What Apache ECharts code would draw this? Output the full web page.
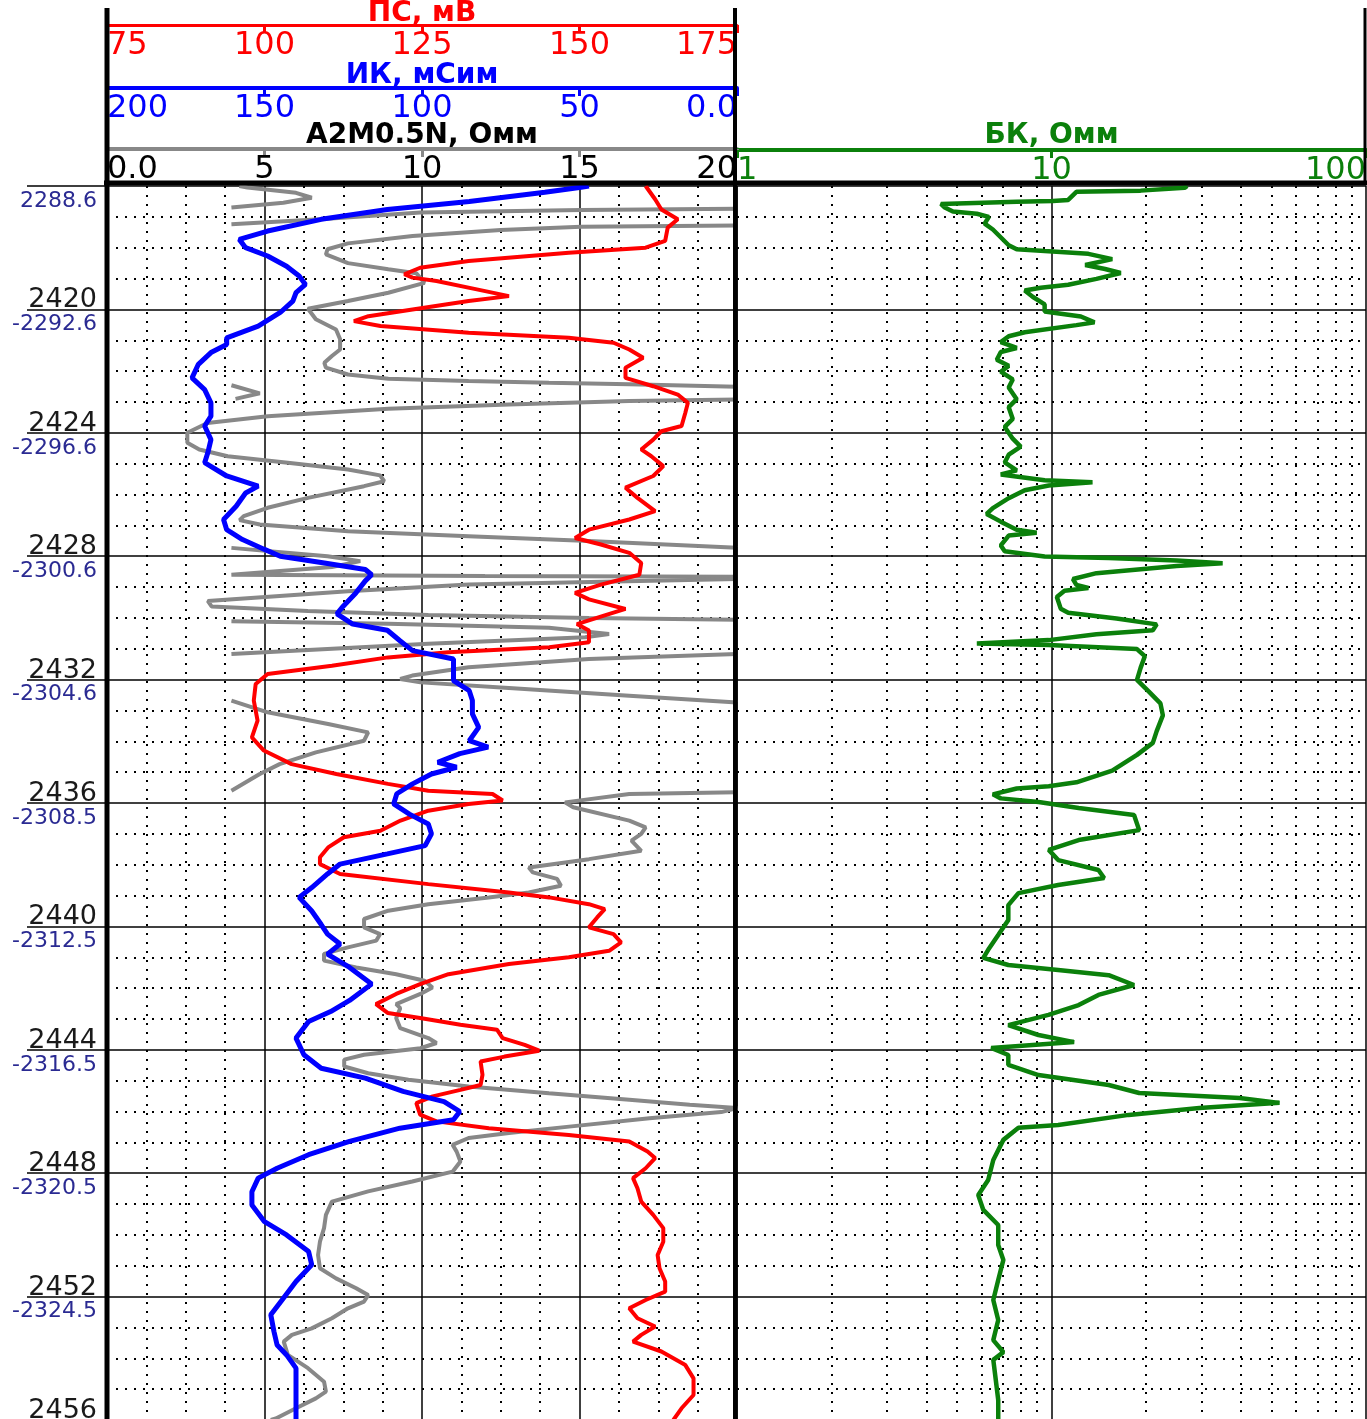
<!DOCTYPE html>
<html>
<head>
<meta charset="utf-8">
<script src="https://cdn.jsdelivr.net/npm/echarts@6/dist/echarts.min.js"></script>
<style>
  html, body { margin: 0; padding: 0; background: #fff; }
  #chart { width: 1367px; height: 1419px; }
</style>
</head>
<body>
<div id="chart"></div>
<script>
// Depth scale (measured depth, m) and absolute-depth annotations
const depthTicks = [2416, 2420, 2424, 2428, 2432, 2436, 2440, 2444, 2448, 2452, 2456];
const mdLabels  = ['', '2420', '2424', '2428', '2432', '2436', '2440', '2444', '2448', '2452', '2456'];
const tvdLabels = ['2288.6', '-2292.6', '-2296.6', '-2300.6', '-2304.6', '-2308.5', '-2312.5', '-2316.5', '-2320.5', '-2324.5', ''];

// Minor log grid values for the БК track
const bkMinor = [2, 3, 4, 5, 6, 7, 8, 9, 20, 30, 40, 50, 60, 70, 80, 90];

// ПС, мВ  — [depth, value]
const spLog = [
  [2416.0,160.5],[2416.43,162],[2416.76,163],[2417.08,165.6],[2417.35,164],[2417.78,163.6],[2418.0,160.5],
  [2418.16,148.3],[2418.43,132.4],[2418.65,124.7],[2418.86,122.2],[2418.97,123.5],[2419.08,127.3],[2419.35,133.7],
  [2419.57,138.8],[2419.73,132.4],[2420.0,123.5],[2420.22,116.5],[2420.38,114.2],[2420.54,118.4],[2420.76,132.4],
  [2420.92,148.3],[2421.08,155.4],[2421.3,157.9],[2421.57,160.1],[2421.89,157.3],[2422.22,157.3],[2422.49,161.7],
  [2422.76,165.6],[2423.03,167.2],[2423.35,166.8],[2423.78,166.2],[2423.95,163],[2424.22,161.7],[2424.54,159.8],
  [2424.76,161.4],[2425.08,163.3],[2425.4,161.7],[2425.78,157.3],[2426.11,159.2],[2426.54,162],[2426.81,157.9],
  [2427.14,151.5],[2427.41,149.3],[2427.62,153.4],[2427.89,157.9],[2428.22,159.8],[2428.6,159.5],[2428.92,153.4],
  [2429.19,149.3],[2429.4,151.5],[2429.71,157.3],[2429.92,154],[2430.2,149.6],[2430.41,151.5],[2430.79,151.5],
  [2430.95,145.2],[2431.11,129.2],[2431.28,119.6],[2431.55,110.7],[2431.82,100.5],[2432.14,98.6],[2432.68,98.3],
  [2433.33,98.9],[2433.87,98],[2434.3,99.9],[2434.74,104.3],[2435.06,111.4],[2435.38,119.6],[2435.6,126],
  [2435.71,136.2],[2435.92,137.8],[2436.03,132.4],[2436.25,126],[2436.57,121.6],[2436.9,118.4],[2437.11,112.6],
  [2437.44,110.1],[2437.76,108.8],[2437.98,108.8],[2438.3,112],[2438.63,126],[2438.9,138.8],[2439.06,145.2],
  [2439.28,151.5],[2439.44,154],[2439.71,152.8],[2440.03,151.5],[2440.25,155.4],[2440.52,156.6],[2440.79,154.7],
  [2441.0,148.3],[2441.22,138.8],[2441.55,129.2],[2441.87,124.7],[2442.19,120.9],[2442.52,117.7],[2442.81,119.6],
  [2442.97,124.7],[2443.19,131.1],[2443.35,136.9],[2443.62,137.8],[2443.84,141.3],[2444.03,143.6],[2444.22,138.1],
  [2444.38,134.3],[2444.81,134.6],[2445.14,134.3],[2445.3,131.1],[2445.51,126.7],[2445.73,124.1],[2446.1,124.7],
  [2446.32,127.3],[2446.54,135.6],[2446.76,148.3],[2446.97,157.9],[2447.3,160.8],[2447.51,162],[2447.84,160.5],
  [2448.16,158.5],[2448.49,159.2],[2448.92,159.8],[2449.35,161.7],[2449.78,163.3],[2450.22,163.3],[2450.65,162.4],
  [2451.08,162.7],[2451.51,163.6],[2451.84,163.6],[2452.11,160.5],[2452.38,157.9],[2452.7,159.2],[2452.97,162],
  [2453.24,159.8],[2453.46,158.5],[2453.78,163],[2454.22,166.8],[2454.65,168.1],[2455.19,168.1],[2455.62,166.2],
  [2456.0,164.9]
];

// ИК, мСим — [depth, value]
const ikLog = [
  [2416.0,47],[2416.05,50],[2416.2,61],[2416.5,85],[2416.76,111],[2417.08,132],[2417.46,149],[2417.73,158],
  [2418.0,156],[2418.27,149],[2418.6,143],[2418.92,139],[2419.19,137],[2419.46,140],[2419.73,141],[2420.1,145],
  [2420.54,152],[2420.92,162],[2421.14,162],[2421.4,167],[2421.78,171],[2422.22,173],[2422.6,169],[2423.03,167],
  [2423.46,167],[2423.78,169],[2424.22,167],[2424.65,168],[2424.97,169],[2425.4,162],[2425.73,152],[2425.95,156],
  [2426.38,159],[2426.81,163],[2427.14,162],[2427.46,157],[2427.78,150],[2428.0,145],[2428.22,131],[2428.43,118],
  [2428.6,116],[2428.8,118],[2429.19,121],[2429.62,125],[2429.87,127],[2430.2,122],[2430.4,111],[2430.74,107],
  [2431.06,103],[2431.33,90],[2431.6,90],[2432.03,90],[2432.36,85],[2432.68,84],[2433.11,84],[2433.55,82],
  [2433.98,85],[2434.19,79],[2434.4,88],[2434.68,95],[2434.84,89],[2435.06,97],[2435.38,103],[2435.7,108],
  [2436.03,109],[2436.36,104],[2436.68,98],[2437.0,97],[2437.38,99],[2437.65,111],[2437.98,126],[2438.3,130],
  [2438.74,135],[2439.06,139],[2439.5,135],[2439.94,132],[2440.25,130],[2440.57,126],[2440.9,130],[2441.33,123],
  [2441.87,116],[2442.4,123],[2442.76,129],[2443.08,136],[2443.62,140],[2444.16,137.5],[2444.6,132],[2444.92,118],
  [2445.35,106],[2445.68,93],[2446.0,88],[2446.27,90],[2446.54,107],[2446.97,123],[2447.4,136],[2447.84,146],
  [2448.16,152],[2448.6,154],[2449.03,154],[2449.57,150],[2450.0,143],[2450.54,136],[2450.97,135],[2451.51,140],
  [2452.05,144],[2452.59,148],[2453.13,147],[2453.57,146],[2453.89,143],[2454.32,140],[2454.97,140],[2456.0,140]
];

// A2M0.5N, Омм — [depth, plotted value]; null separates wrapped pieces of the trace
const a2mLog = [
  [2416.0,4.2],[2416.05,4.46],[2416.22,6.0],[2416.38,6.5],[2416.54,5.6],[2416.7,3.95],
  null,
  [2417.24,3.95],[2417.08,6.76],[2416.86,9.95],[2416.78,15.05],[2416.74,20],
  null,
  [2417.28,20],[2417.32,15.05],[2417.43,12.5],[2417.62,9.7],[2417.86,7.65],[2418.05,7.0],[2418.22,6.95],
  [2418.5,7.65],[2418.7,8.93],[2418.83,9.82],[2419.14,10.08],[2419.46,8.93],[2419.73,7.65],[2419.98,6.38],
  [2420.32,6.63],[2420.65,7.27],[2420.97,7.4],[2421.3,7.4],[2421.51,7.14],[2421.73,6.9],[2421.89,6.95],
  [2422.11,7.65],[2422.25,8.93],[2422.32,11.48],[2422.38,14.03],[2422.43,16.58],[2422.51,20],
  null,
  [2422.46,3.95],[2422.72,4.85],[2422.9,4.08],
  null,
  [2422.92,20],[2422.97,16.58],[2423.08,12.76],[2423.22,8.93],[2423.46,5.1],[2423.68,3.19],[2424.0,2.55],
  [2424.32,2.55],[2424.54,2.93],[2424.76,3.83],[2424.97,5.74],[2425.19,7.65],[2425.38,8.67],[2425.57,8.8],
  [2425.73,8.16],[2426.11,6.38],[2426.43,5.1],[2426.7,4.34],[2426.83,4.21],[2426.97,4.85],[2427.19,7.65],
  [2427.35,11.48],[2427.51,15.3],[2427.73,20],
  null,
  [2427.73,3.95],[2428.0,7.0],[2428.16,8.04],[2428.35,7.14],[2428.6,3.95],[2428.64,12.0],[2428.67,20],
  null,
  [2428.74,20],[2428.92,11.48],[2429.14,7.65],[2429.45,3.2],[2429.63,3.32],[2429.78,6.38],[2429.91,10.2],
  [2430.0,15.3],[2430.06,20],
  null,
  [2430.11,3.95],[2430.19,8.93],[2430.32,14.03],[2430.52,15.94],[2430.63,15.18],[2430.84,10.2],[2431.17,3.95],
  null,
  [2431.17,20],[2431.33,15.3],[2431.6,11.48],[2431.87,9.69],[2431.98,9.31],[2432.09,9.95],[2432.27,12.76],
  [2432.52,16.58],[2432.74,20],
  null,
  [2432.68,3.95],[2433.06,5.1],[2433.44,7.02],[2433.71,8.29],[2433.98,8.16],[2434.36,6.63],[2434.74,5.48],
  [2435.06,4.85],[2435.6,3.95],
  null,
  [2435.65,20],[2435.71,16.58],[2435.98,14.54],[2436.14,14.8],[2436.57,16.58],[2436.79,17.1],[2437.0,16.96],
  [2437.22,16.65],[2437.55,16.96],[2437.82,15.3],[2438.09,13.39],[2438.25,13.52],[2438.46,14.29],[2438.68,14.41],
  [2438.9,13.39],[2439.06,12.12],[2439.28,10.2],[2439.49,8.93],[2439.76,8.16],[2440.03,8.16],[2440.25,8.67],
  [2440.46,8.55],[2440.68,7.65],[2440.89,6.89],[2441.11,6.89],[2441.33,7.91],[2441.55,9.18],[2441.76,10.08],
  [2441.98,10.33],[2442.19,9.95],[2442.52,9.18],[2442.65,9.31],[2442.97,9.18],[2443.3,9.31],[2443.62,10.2],
  [2443.78,10.46],[2443.95,9.95],[2444.16,8.16],[2444.32,7.53],[2444.54,7.53],[2444.76,8.29],[2444.97,9.57],
  [2445.19,11.48],[2445.41,14.03],[2445.62,16.58],[2445.78,18.5],[2445.89,20],[2446.02,19.5],[2446.22,17.22],
  [2446.49,14.67],[2446.7,12.76],[2446.86,11.48],[2447.08,10.97],[2447.3,11.1],[2447.62,11.22],[2447.95,10.97],
  [2448.27,9.69],[2448.59,8.29],[2448.92,7.14],[2449.35,6.95],[2449.78,6.89],[2450.22,6.76],[2450.65,6.7],
  [2451.08,6.76],[2451.41,7.27],[2451.73,7.91],[2451.95,8.29],[2452.16,8.16],[2452.38,7.65],[2452.7,7.14],
  [2453.03,6.5],[2453.24,5.87],[2453.46,5.61],[2453.89,5.74],[2454.32,6.38],[2454.76,6.89],[2455.08,6.95],
  [2455.3,6.63],[2455.62,6.0],[2455.95,5.36],[2456.0,5.2]
];

// БК, Омм — [depth, value]
const bkLog = [
  [2416.0,27],[2416.06,26.5],[2416.15,19.2],[2416.19,12.0],[2416.45,11.3],[2416.49,10.1],[2416.51,7.75],
  [2416.58,4.45],[2416.7,4.58],[2416.83,4.86],[2416.9,5.79],[2417.0,6.32],[2417.22,6.13],[2417.41,6.51],
  [2417.92,7.31],[2418.05,7.75],[2418.11,9.51],[2418.2,13.1],[2418.37,15.6],[2418.56,12.8],[2418.62,12.8],
  [2418.69,14.8],[2418.82,16.6],[2419.01,13.9],[2419.2,11.3],[2419.3,9.24],[2419.39,8.22],[2419.59,8.71],
  [2419.84,9.51],[2420.07,9.51],[2420.23,12.4],[2420.42,13.7],[2420.51,12.0],[2420.74,8.22],[2420.87,7.31],
  [2421.06,6.9],[2421.25,7.75],[2421.38,6.9],[2421.63,6.7],[2421.83,7.31],[2422.02,6.9],[2422.27,7.53],
  [2422.53,7.31],[2422.91,7.75],[2423.17,7.31],[2423.55,7.53],[2423.81,7.1],[2424.19,7.53],[2424.45,7.98],
  [2424.71,7.31],[2424.96,7.1],[2425.22,7.75],[2425.35,6.9],[2425.54,9.51],[2425.6,13.5],[2425.71,9.8],
  [2425.86,8.22],[2426.12,7.31],[2426.44,6.51],[2426.63,6.22],[2426.88,6.9],[2427.14,7.75],[2427.24,8.97],
  [2427.33,7.31],[2427.65,6.9],[2427.84,7.1],[2428.01,9.51],[2428.06,15.2],[2428.14,25.0],[2428.23,35.0],
  [2428.32,25.0],[2428.55,13.9],[2428.74,11.7],[2428.93,12.0],[2429.03,13.1],[2429.12,11.0],[2429.32,10.4],
  [2429.7,10.7],[2429.83,11.3],[2430.02,16.1],[2430.21,21.6],[2430.4,21.0],[2430.53,13.9],[2430.72,9.8],
  [2430.83,5.79],[2430.88,9.8],[2431.01,18.7],[2431.24,19.8],[2431.62,19.2],[2432.01,18.7],[2432.39,20.4],
  [2432.77,22.2],[2433.16,22.6],[2433.67,21.6],[2434.05,21.0],[2434.44,18.7],[2434.95,15.6],[2435.33,12.0],
  [2435.46,9.8],[2435.53,7.75],[2435.72,6.51],[2435.85,6.9],[2435.97,9.1],[2436.16,12.2],[2436.39,18.3],
  [2436.88,19.0],[2437.2,12.2],[2437.52,9.8],[2437.85,10.5],[2438.17,14.1],[2438.43,14.7],[2438.66,10.5],
  [2438.92,7.85],[2439.31,7.29],[2439.79,7.29],[2440.28,6.77],[2440.76,6.29],[2441.02,6.07],[2441.25,7.29],
  [2441.41,10.5],[2441.58,15.2],[2441.9,18.3],[2442.22,14.1],[2442.55,12.2],[2442.87,9.78],[2443.2,7.29],
  [2443.52,9.09],[2443.75,11.8],[2443.94,6.43],[2444.17,7.29],[2444.49,7.29],[2444.82,9.09],[2445.14,15.2],
  [2445.4,19.0],[2445.56,39.6],[2445.72,53.1],[2445.89,29.5],[2446.11,17.6],[2446.44,10.5],[2446.53,7.85],
  [2446.92,7.03],[2447.57,6.53],[2448.22,6.29],[2448.71,5.85],[2449.19,6.07],[2449.68,6.77],[2450.33,6.77],
  [2450.81,7.03],[2451.46,6.77],[2452.11,6.53],[2452.76,6.77],[2453.41,6.53],[2453.8,7.03],[2454.05,6.53],
  [2454.7,6.65],[2455.35,6.77],[2456.0,6.77]
];

// ---- chart setup ----
const FONT = 'DejaVu Sans';
const dotted = { type: [2, 7], color: '#000', width: 2 };
const solidGrid = { color: '#000', width: 1.5 };
const C_SP = '#ff0000', C_IK = '#0000ff', C_A2M = '#888888', C_BK = '#0b800b';

const toXY = arr => arr.map(([d, v]) => [v, d]);

// split the resistivity trace into its drawn pieces
const a2mPieces = [];
let piece = [];
a2mLog.forEach(p => {
  if (p === null) { if (piece.length) a2mPieces.push(piece); piece = []; }
  else piece.push(p);
});
if (piece.length) a2mPieces.push(piece);

function depthAxis(gridIndex, withLabels) {
  return {
    type: 'value', gridIndex, inverse: true, min: 2416, max: 2456, interval: 4,
    axisLine: { show: false },
    axisTick: withLabels ? { show: true, length: 80, lineStyle: { color: '#000', width: 1.5 } } : { show: false },
    axisLabel: withLabels ? {
      show: true, interval: 0, margin: 10, showMinLabel: true, showMaxLabel: true,
      formatter: val => {
        const i = depthTicks.indexOf(val);
        if (i < 0) return '';
        return '{md|' + (mdLabels[i] || ' ') + '}\n{tvd|' + (tvdLabels[i] || ' ') + '}';
      },
      rich: {
        md: { color: '#1a1a1a', fontFamily: FONT, fontSize: 27, lineHeight: 30, align: 'right' },
        tvd: { color: '#2a2a92', fontFamily: FONT, fontSize: 22, lineHeight: 18, align: 'right' }
      }
    } : { show: false },
    splitLine: { show: true, lineStyle: solidGrid },
    minorTick: { show: false, splitNumber: 4 },
    minorSplitLine: { show: true, lineStyle: dotted }
  };
}

function headerAxis(cfg) {
  return Object.assign({
    position: 'top',
    nameLocation: 'middle',
    nameMoveOverlap: false,
    axisLine: { show: true, onZero: false, lineStyle: { color: cfg.color, width: cfg.lineWidth || 4 } },
    axisTick: { show: true, inside: true, length: 8, lineStyle: { color: cfg.color, width: 3 } },
    axisLabel: {
      inside: true, margin: 5, color: cfg.labelColor || cfg.color,
      fontFamily: FONT, fontSize: 32,
      showMinLabel: true, showMaxLabel: true,
      alignMinLabel: cfg.alignMin || 'left', alignMaxLabel: cfg.alignMax || 'right',
      formatter: cfg.formatter
    },
    nameTextStyle: {
      color: cfg.nameColor || cfg.color, fontFamily: FONT, fontSize: 28, fontWeight: 'bold',
      lineHeight: cfg.nameLineHeight || 22
    },
    splitLine: { show: false }
  }, cfg.axis);
}

const option = {
  animation: false,
  backgroundColor: '#fff',
  grid: [
    { left: 107, top: 186, width: 630, height: 1234, outerBoundsMode: 'none', containLabel: false },
    { left: 737, top: 186, width: 629, height: 1234, outerBoundsMode: 'none', containLabel: false }
  ],
  xAxis: [
    Object.assign(headerAxis({
      color: C_A2M, labelColor: '#000', nameColor: '#000', lineWidth: 4, nameLineHeight: 22,
      formatter: v => (v === 0 ? '0.0' : String(v)),
      axis: { type: 'value', gridIndex: 0, offset: 37, min: 0, max: 20, interval: 5,
              name: 'A2M0.5N, Омм', nameGap: 2 }
    }), {
      splitLine: { show: true, lineStyle: solidGrid },
      minorTick: { show: false, splitNumber: 4 },
      minorSplitLine: { show: true, lineStyle: dotted }
    }),
    headerAxis({
      color: C_SP, lineWidth: 3, nameLineHeight: 22,
      formatter: v => String(v),
      axis: { type: 'value', gridIndex: 0, offset: 161, min: 75, max: 175, interval: 25,
              name: 'ПС, мВ', nameGap: 0 }
    }),
    headerAxis({
      color: C_IK, lineWidth: 4, alignMin: 'right', alignMax: 'left', nameLineHeight: 25,
      formatter: v => (v === 0 ? '0.0' : String(v)),
      axis: { type: 'value', gridIndex: 0, offset: 98, min: 0, max: 200, interval: 50, inverse: true,
              name: 'ИК, мСим', nameGap: 0 }
    }),
    Object.assign(headerAxis({
      color: C_BK, lineWidth: 4, nameLineHeight: 24,
      formatter: v => String(v),
      axis: { type: 'log', logBase: 10, gridIndex: 1, offset: 36, min: 1, max: 100,
              name: 'БК, Омм', nameGap: 2 }
    }), {
      splitLine: { show: true, lineStyle: solidGrid }
    })
  ],
  yAxis: [depthAxis(0, true), depthAxis(1, false)],
  graphic: {
    elements: [
      { type: 'line', z: 50, shape: { x1: 107, y1: 8, x2: 107, y2: 1419 }, style: { stroke: '#000', lineWidth: 5 } },
      { type: 'line', z: 50, shape: { x1: 735, y1: 8, x2: 735, y2: 1419 }, style: { stroke: '#000', lineWidth: 4 } },
      { type: 'line', z: 50, shape: { x1: 1365, y1: 8, x2: 1365, y2: 184 }, style: { stroke: '#000', lineWidth: 3 } },
      { type: 'line', z: 50, shape: { x1: 104, y1: 183, x2: 1367, y2: 183 }, style: { stroke: '#000', lineWidth: 5 } }
    ]
  },
  series: [
    ...a2mPieces.map(seg => ({
      type: 'line', name: 'A2M0.5N', xAxisIndex: 0, yAxisIndex: 0,
      data: toXY(seg), symbol: 'none', smooth: false, clip: true, z: 3,
      lineStyle: { color: C_A2M, width: 4 }
    })),
    {
      type: 'line', name: 'ПС', xAxisIndex: 1, yAxisIndex: 0,
      data: toXY(spLog), symbol: 'none', smooth: false, clip: true, z: 4,
      lineStyle: { color: C_SP, width: 4 }
    },
    {
      type: 'line', name: 'ИК', xAxisIndex: 2, yAxisIndex: 0,
      data: toXY(ikLog), symbol: 'none', smooth: false, clip: true, z: 5,
      lineStyle: { color: C_IK, width: 5 }
    },
    {
      type: 'line', name: 'БК', xAxisIndex: 3, yAxisIndex: 1,
      data: toXY(bkLog), symbol: 'none', smooth: false, clip: true, z: 10,
      lineStyle: { color: C_BK, width: 4.5 },
      markLine: {
        silent: true, symbol: ['none', 'none'], label: { show: false },
        lineStyle: dotted, emphasis: { disabled: true },
        data: bkMinor.map(v => ({ xAxis: v }))
      }
    }
  ]
};

const chart = echarts.init(document.getElementById('chart'), null, { renderer: 'canvas' });
chart.setOption(option);
</script>
</body>
</html>
